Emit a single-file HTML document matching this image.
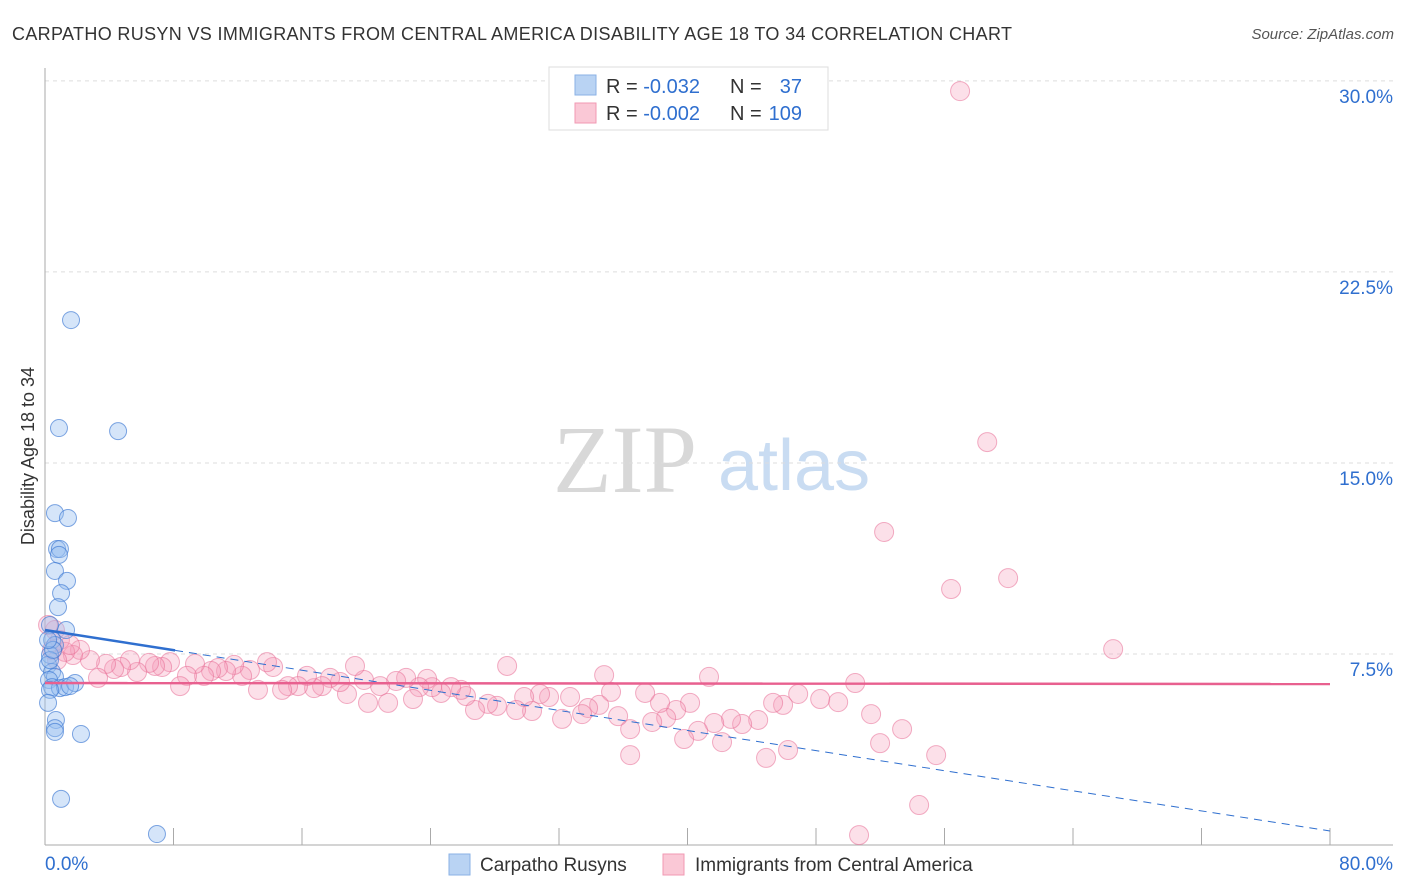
<!DOCTYPE html>
<html><head><meta charset="utf-8"><style>
body{margin:0;background:#fff;font-family:"Liberation Sans",sans-serif}
svg{display:block}
</style></head><body>
<svg id="c" width="1406" height="892" xmlns="http://www.w3.org/2000/svg">
<text x="12" y="40" font-size="18" fill="#333" textLength="1000" lengthAdjust="spacing">CARPATHO RUSYN VS IMMIGRANTS FROM CENTRAL AMERICA DISABILITY AGE 18 TO 34 CORRELATION CHART</text>
<text x="1394" y="39" font-size="15" fill="#555" text-anchor="end" font-style="italic">Source: ZipAtlas.com</text>
<text transform="translate(34,456) rotate(-90)" font-size="18" fill="#333" text-anchor="middle">Disability Age 18 to 34</text>
<g><text x="553" y="492" font-family="Liberation Serif,serif" font-size="96" fill="#d8d8d8">ZIP</text><text x="718" y="490" font-size="72" fill="#c9dcf2">atlas</text></g>
<g id="grid"></g><g id="marks"></g>
<g>
<rect x="549" y="67" width="279" height="63" fill="#fff" stroke="#ddd"/>
<rect x="575" y="75" width="21" height="20" fill="#b9d3f3" stroke="#8ab2e6"/>
<rect x="575" y="103" width="21" height="20" fill="#fac8d6" stroke="#f199b3"/>
<text x="606" y="93" font-size="20" fill="#333">R = <tspan fill="#2f6fcf">-0.032</tspan></text>
<text x="730" y="93" font-size="20" fill="#333">N =</text><text x="802" y="93" font-size="20" fill="#2f6fcf" text-anchor="end">37</text>
<text x="606" y="120" font-size="20" fill="#333">R = <tspan fill="#2f6fcf">-0.002</tspan></text>
<text x="730" y="120" font-size="20" fill="#333">N =</text><text x="802" y="120" font-size="20" fill="#2f6fcf" text-anchor="end">109</text>
</g>
<g>
<rect x="449" y="854" width="21" height="21" fill="#b9d3f3" stroke="#8ab2e6"/>
<text x="480" y="871" font-size="19" fill="#333">Carpatho Rusyns</text>
<rect x="663" y="854" width="21" height="21" fill="#fac8d6" stroke="#f199b3"/>
<text x="695" y="871" font-size="19" fill="#333">Immigrants from Central America</text>
</g>
</svg>
<script>
const xTicks=[0,8,16,24,32,40,48,56,64,72,80];
const yTicks=[7.5,15,22.5,30];
const blueX=[1.62,.87,4.55,.62,1.43,.75,.93,.87,.62,1.37,1.0,.81,1.31,.31,.44,.62,.31,.19,.44,.62,.25,.44,.93,1.25,1.87,.31,.19,.68,.62,.62,2.24,1.0,6.97,.31,.5,1.56,.19];
const blueY=[20.61,16.37,16.25,13.03,12.84,11.62,11.62,11.39,10.76,10.37,9.89,9.34,8.44,8.64,8.05,7.85,7.46,7.07,6.79,6.60,6.48,6.20,6.16,6.20,6.36,6.09,5.58,4.91,4.59,4.44,4.36,1.81,.43,7.26,7.66,6.24,8.05];
const pinkX=[56.97,58.66,52.24,56.41,59.96,66.5,50.44,51.43,51.99,53.36,55.48,54.42,50.68,49.38,48.26,46.89,46.26,44.89,45.95,45.33,44.4,43.4,42.71,42.15,41.66,41.34,40.66,40.16,39.79,39.29,38.67,38.29,37.8,37.36,36.43,36.43,35.68,35.24,34.81,34.5,33.81,33.44,32.69,32.19,31.38,30.82,30.32,29.83,29.33,28.77,28.14,27.58,26.77,26.21,25.9,25.28,24.66,24.1,23.79,23.29,22.91,22.48,21.86,21.36,20.86,20.11,19.86,19.3,18.8,18.37,17.75,17.25,16.75,16.31,15.75,15.13,14.76,14.2,13.82,13.26,12.76,12.27,11.77,11.27,10.77,10.34,9.9,9.34,8.84,8.41,7.78,7.29,6.85,6.48,5.73,5.29,4.73,4.3,3.8,3.3,2.8,2.18,1.74,1.25,.93,.62,.44,.75,1.56,.19];
const pinkY=[29.6,15.82,12.29,10.05,10.48,7.69,6.36,5.14,4.0,4.55,3.53,1.57,.39,5.61,5.73,5.93,3.73,3.42,5.5,5.58,4.91,4.75,4.95,4.04,4.79,6.6,4.48,5.58,4.16,5.3,4.99,5.58,4.83,5.97,4.55,3.53,5.06,6.01,6.67,5.5,5.38,5.14,5.81,4.95,5.81,5.93,5.26,5.81,5.3,7.03,5.46,5.54,5.3,5.85,6.09,6.2,5.97,6.2,6.52,6.2,5.73,6.56,6.44,5.58,6.24,5.58,6.48,7.03,5.93,6.4,6.56,6.24,6.16,6.64,6.24,6.24,6.09,6.99,7.18,6.09,6.87,6.64,7.07,6.83,6.95,6.83,6.64,7.11,6.64,6.24,7.18,6.99,7.03,7.15,6.79,7.26,6.99,6.91,7.11,6.56,7.26,7.66,7.46,7.58,8.05,8.44,7.66,7.26,7.85,8.64];
const blueTrend=[8.44,0.55];
const pinkTrend=[6.36,6.32];
const X=v=>45+v*(1285/80), Y=v=>845-v*25.47;
const NS='http://www.w3.org/2000/svg';
function mk(p,t,a){const e=document.createElementNS(NS,t);for(const k in a)e.setAttribute(k,a[k]);p.appendChild(e);return e;}
const g=document.getElementById('grid'), m=document.getElementById('marks');
yTicks.forEach(t=>{
 const l=mk(g,'line',{x1:45,x2:1393,y1:Y(t),y2:Y(t),stroke:'#ddd','stroke-dasharray':'4,4'});
 
 
 const tx=mk(g,'text',{x:1393,y:Y(t)+22,'font-size':19,fill:'#2f6fcf','text-anchor':'end'});
 tx.textContent=t.toFixed(1)+'%';
 
 
});
const ax=mk(g,'line',{x1:45,x2:45,y1:68,y2:845,stroke:'#aaa'});


const bx=mk(g,'line',{x1:45,x2:1393,y1:845,y2:845,stroke:'#aaa'});


xTicks.forEach((t,i)=>{
 if(i==0)return;
 const l=mk(g,'line',{x1:X(t),x2:X(t),y1:828,y2:845,stroke:'#aaa'});
 
 
});
[[0,'0.0%','start',45],[80,'80.0%','end',1393]].forEach(d=>{
 const tx=mk(g,'text',{x:d[3],y:870,'font-size':19,fill:'#2f6fcf','text-anchor':d[2]});
 tx.textContent=d[1];
 
 
});
pinkX.forEach((x,i)=>{
 const c=mk(m,'circle',{cx:X(x),cy:Y(pinkY[i]),r:9.5,fill:'rgba(246,160,186,0.32)',stroke:'rgba(232,110,150,0.55)'});
 
 
});
blueX.forEach((x,i)=>{
 const c=mk(m,'circle',{cx:X(x),cy:Y(blueY[i]),r:8.5,fill:'rgba(150,190,240,0.4)',stroke:'rgba(60,120,210,0.65)'});
 
 
});
const by=x=>blueTrend[0]+(blueTrend[1]-blueTrend[0])*x/80;
const bt=mk(m,'line',{x1:X(0),y1:Y(by(0)),x2:X(8.1),y2:Y(by(8.1)),stroke:'#2f6fcf','stroke-width':2.5});


const bd=mk(m,'line',{x1:X(8.1),y1:Y(by(8.1)),x2:X(80),y2:Y(by(80)),stroke:'#2f6fcf','stroke-width':1,'stroke-dasharray':'8,6'});


const pt=mk(m,'line',{x1:X(0),y1:Y(pinkTrend[0]),x2:X(80),y2:Y(pinkTrend[1]),stroke:'#e8608f','stroke-width':2.5});


</script>
</body></html>
